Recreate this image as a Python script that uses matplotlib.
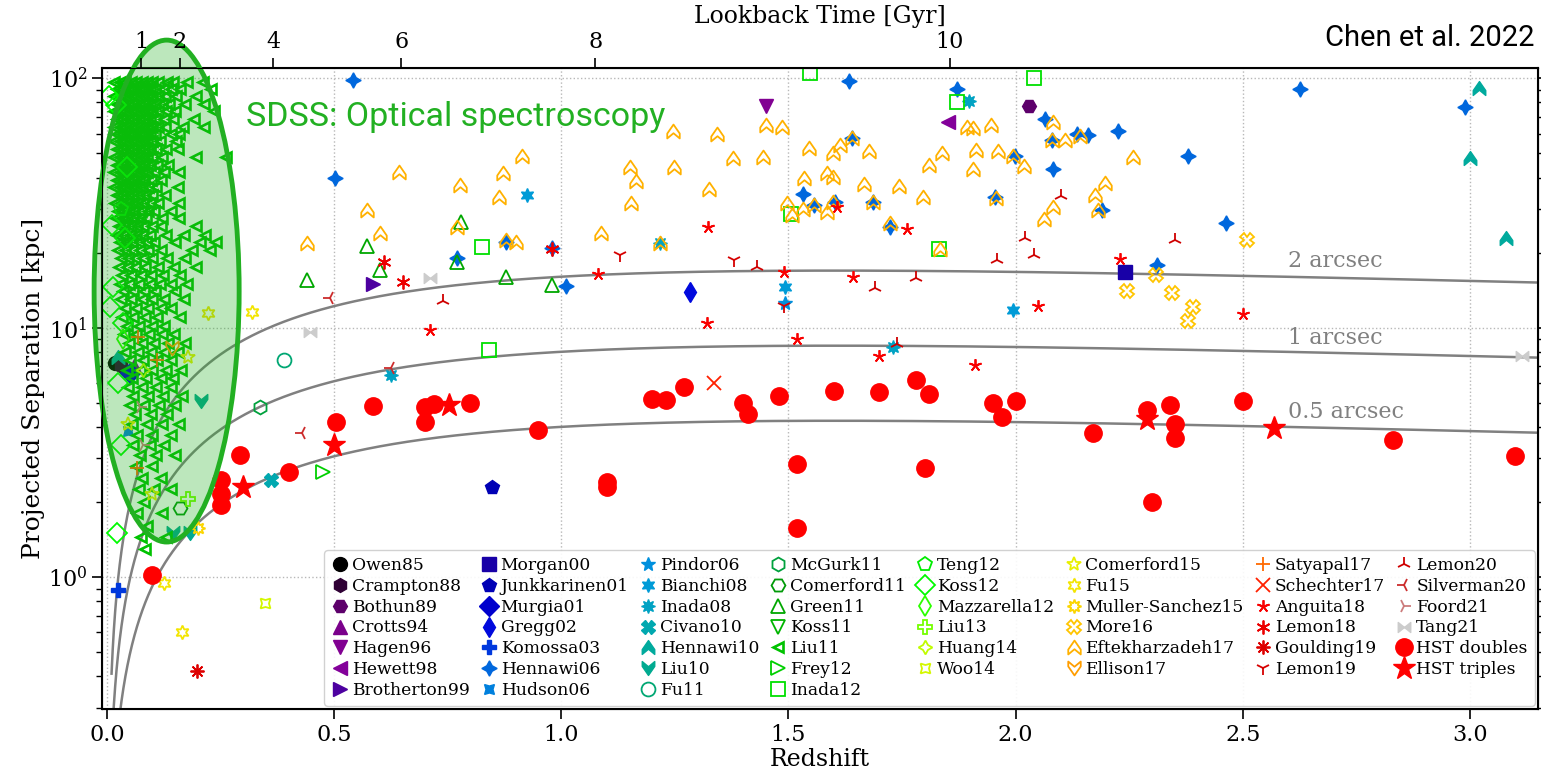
import numpy as np
import matplotlib
matplotlib.use("Agg")
import matplotlib.pyplot as plt
from matplotlib.patches import Ellipse
from matplotlib.path import Path

plt.rcParams["font.family"] = "DejaVu Serif"
plt.rcParams["mathtext.fontset"] = "dejavuserif"

# ---- (redshift, projected separation [kpc]) ----
owen85 = [(0.018, 7.2)]
crampton88 = [(0.030, 7.0)]
bothun89 = [(2.03, 77.8)]
crotts94 = [(0.060, 7.0)]
hagen96 = [(1.45, 77.8)]
hewett98 = [(1.851, 66.6)]
brotherton99 = [(0.586, 15.0)]
morgan00 = [(2.24, 16.8)]
junkkarinen01 = [(0.847, 2.3)]
murgia01 = [(0.050, 6.6)]
gregg02 = [(1.283, 13.9)]
komossa03 = [(0.024, 0.89)]
hennawi06 = [(0.541, 98), (0.502, 39.7), (0.77, 19.0), (0.878, 22.0), (0.98, 20.8),
             (1.01, 14.7), (1.633, 97.3), (1.871, 91), (2.065, 69), (2.082, 43.2),
             (2.225, 61.3), (2.626, 90.3), (2.99, 76.5), (2.38, 48.6), (2.463, 26.2),
             (2.311, 17.8), (1.532, 34.5), (1.556, 31.1), (1.603, 31.9), (1.686, 31.9),
             (1.724, 25.3), (1.955, 33.3), (2.08, 56.4), (2.135, 60), (2.16, 59),
             (2.19, 29.6), (1.64, 57.9), (1.999, 49)]
hudson06 = [(0.047, 3.84)]
pindor06 = [(1.493, 12.6)]
bianchi08 = [(1.493, 14.5), (0.925, 34), (1.995, 11.8)]
inada08 = [(1.217, 21.8), (1.73, 8.4), (0.625, 6.45), (1.897, 80.9)]
civano10 = [(0.36, 2.45)]
hennawi10 = [(3.02, 91.2), (3.00, 47.8), (3.08, 22.8), (0.025, 7.6)]
liu10 = [(0.207, 5.1), (0.145, 1.5), (0.183, 1.5)]
fu11 = [(0.39, 7.4)]
mcgurk11 = [(0.337, 4.8)]
comerford11 = [(0.16, 1.9)]
green11 = [(0.44, 15.5), (0.572, 21.3), (0.60, 17), (0.78, 26.5), (0.77, 18.3),
           (0.878, 16), (0.98, 14.9)]
koss11 = [(0.050, 25)]
# dense SDSS sample: (separation, list of redshifts) per row
liu11_rows = [
    (97, [0.016, 0.028, 0.040, 0.052, 0.064, 0.076, 0.088, 0.100, 0.112, 0.131, 0.146, 0.176, 0.212]),
    (91, [0.022, 0.034, 0.046, 0.058, 0.070, 0.082, 0.094, 0.106, 0.124, 0.140, 0.160, 0.228]),
    (85, [0.016, 0.028, 0.040, 0.052, 0.064, 0.076, 0.088, 0.100, 0.112, 0.128, 0.152, 0.196]),
    (79, [0.022, 0.034, 0.046, 0.058, 0.070, 0.082, 0.094, 0.106, 0.120, 0.137, 0.172, 0.214]),
    (74, [0.016, 0.028, 0.040, 0.052, 0.064, 0.076, 0.088, 0.100, 0.112, 0.130, 0.150, 0.236]),
    (69, [0.022, 0.034, 0.046, 0.058, 0.070, 0.082, 0.094, 0.106, 0.125, 0.145, 0.192]),
    (64, [0.016, 0.028, 0.040, 0.052, 0.064, 0.076, 0.088, 0.100, 0.112, 0.128, 0.168, 0.213]),
    (60, [0.022, 0.034, 0.046, 0.058, 0.070, 0.082, 0.094, 0.106, 0.140, 0.158]),
    (56, [0.016, 0.028, 0.040, 0.052, 0.064, 0.076, 0.088, 0.100, 0.117, 0.152]),
    (52, [0.022, 0.034, 0.046, 0.058, 0.070, 0.082, 0.094, 0.108, 0.130, 0.156]),
    (48.5, [0.016, 0.028, 0.040, 0.052, 0.064, 0.076, 0.088, 0.100, 0.120, 0.195, 0.262]),
    (45, [0.022, 0.034, 0.046, 0.058, 0.070, 0.082, 0.094, 0.110, 0.135]),
    (42, [0.016, 0.028, 0.040, 0.052, 0.064, 0.076, 0.088, 0.104, 0.126, 0.158]),
    (39, [0.022, 0.034, 0.046, 0.058, 0.070, 0.082, 0.096, 0.118]),
    (36.5, [0.016, 0.028, 0.040, 0.052, 0.064, 0.076, 0.090, 0.108, 0.157]),
    (34, [0.022, 0.034, 0.046, 0.058, 0.070, 0.084, 0.100, 0.128]),
    (31.5, [0.018, 0.030, 0.042, 0.054, 0.066, 0.080, 0.094, 0.112, 0.158]),
    (29.5, [0.024, 0.036, 0.048, 0.060, 0.074, 0.090, 0.104, 0.140]),
    (27.5, [0.020, 0.032, 0.044, 0.058, 0.072, 0.086, 0.120, 0.158]),
    (25.5, [0.026, 0.038, 0.052, 0.066, 0.080, 0.098, 0.118, 0.196]),
    (23.5, [0.022, 0.036, 0.050, 0.064, 0.078, 0.094, 0.130, 0.170, 0.215]),
    (22, [0.028, 0.042, 0.056, 0.070, 0.086, 0.104, 0.150, 0.205, 0.241]),
    (20.5, [0.024, 0.040, 0.056, 0.072, 0.090, 0.118, 0.188, 0.226]),
    (19, [0.030, 0.046, 0.062, 0.080, 0.100, 0.132, 0.172]),
    (17.5, [0.026, 0.044, 0.062, 0.084, 0.112, 0.148, 0.195]),
    (16.2, [0.032, 0.052, 0.074, 0.096, 0.124, 0.160]),
    (15, [0.028, 0.048, 0.070, 0.094, 0.116, 0.140, 0.176]),
    (14, [0.036, 0.058, 0.082, 0.106, 0.150]),
    (13, [0.030, 0.052, 0.076, 0.100, 0.126, 0.170]),
    (12, [0.040, 0.064, 0.090, 0.118, 0.140]),
    (11, [0.034, 0.058, 0.084, 0.110, 0.160]),
    (10.2, [0.044, 0.070, 0.098, 0.126]),
    (9.4, [0.038, 0.064, 0.092, 0.120, 0.148]),
    (8.7, [0.048, 0.076, 0.104, 0.134, 0.172]),
    (8.0, [0.040, 0.068, 0.096, 0.126, 0.156]),
    (7.4, [0.050, 0.080, 0.110, 0.140]),
    (6.8, [0.044, 0.072, 0.100, 0.130, 0.162]),
    (6.3, [0.054, 0.086, 0.118, 0.146]),
    (5.8, [0.046, 0.076, 0.108, 0.140]),
    (5.3, [0.058, 0.090, 0.124, 0.166]),
    (4.9, [0.050, 0.082, 0.114, 0.150]),
    (4.5, [0.062, 0.096, 0.132]),
    (4.1, [0.054, 0.088, 0.120, 0.158]),
    (3.7, [0.066, 0.100, 0.140]),
    (3.4, [0.058, 0.094, 0.126]),
    (3.1, [0.072, 0.108, 0.150]),
    (2.8, [0.064, 0.100]),
    (2.5, [0.078, 0.118]),
    (2.25, [0.070, 0.104, 0.140]),
    (2.0, [0.082]),
    (1.8, [0.066, 0.120]),
    (1.6, [0.088]),
    (1.45, [0.074, 0.130]),
    (1.3, [0.084]),
]
liu11 = [(z, sep) for sep, zs in liu11_rows for z in zs]
frey12 = [(0.475, 2.65)]
inada12 = [(0.825, 21), (0.841, 8.15), (1.547, 105), (2.04, 100), (1.871, 80.2),
           (1.506, 28.6), (1.832, 20.7)]
teng12 = [(0.030, 30)]
koss12 = [(0.005, 85), (0.020, 78), (0.044, 44), (0.011, 25.7), (0.040, 23),
          (0.013, 14.5), (0.007, 12.1), (0.035, 10.4), (0.024, 6.0), (0.030, 3.4),
          (0.022, 1.5)]
mazzarella12 = [(0.035, 9.0)]
liu13 = [(0.178, 2.05)]
huang14 = [(0.079, 6.8)]
woo14 = [(0.348, 0.79)]
comerford15 = [(0.178, 7.6), (0.10, 2.15), (0.046, 4.1)]
fu15 = [(0.126, 0.95), (0.166, 0.60), (0.222, 11.5), (0.319, 11.6)]
muller_sanchez15 = [(0.20, 1.57)]
more16 = [(2.31, 16.2), (2.245, 14.1), (2.345, 13.8), (2.39, 12.1), (2.38, 10.6), (2.51, 22.4)]
eftekharzadeh17 = [
    (0.44, 21.8), (0.572, 29.6), (0.60, 23.9), (0.643, 42), (0.777, 37.3), (0.77, 25.3),
    (0.872, 41.7), (0.863, 33.3), (0.913, 48.6), (0.878, 22.4), (0.90, 22), (1.087, 23.9),
    (1.151, 44), (1.164, 38.7), (1.153, 31.6), (1.246, 61.3), (1.248, 44), (1.343, 59.6),
    (1.325, 36), (1.378, 47.8), (1.217, 21.8), (1.45, 64.8), (1.486, 63.6), (1.444, 48.2),
    (1.545, 52.4), (1.598, 50), (1.613, 53.8), (1.64, 57.9), (1.677, 51), (1.534, 39.7),
    (1.585, 41.6), (1.598, 40.1), (1.666, 37.6), (1.743, 36.9), (1.81, 44.8), (1.838, 50),
    (1.913, 51.4), (1.961, 51), (1.906, 43.2), (1.893, 63.6), (1.906, 63), (1.946, 64.8),
    (1.994, 48.6), (2.018, 44.4), (2.082, 66.6), (2.08, 56.4), (2.109, 56.4), (2.142, 58.5),
    (2.258, 48.2), (2.197, 37.9), (2.175, 33.9), (2.181, 29.6), (2.082, 30.4), (2.063, 27.2),
    (1.497, 31.6), (1.508, 28.2), (1.532, 29.9), (1.556, 31.1), (1.585, 29.2), (1.598, 31.9),
    (1.686, 31.9), (1.724, 26.2), (1.796, 33.3), (1.957, 33.1), (1.834, 20.7)]
ellison17 = [(0.143, 8.3)]
satyapal17 = [(0.068, 9.2), (0.11, 7.4), (0.066, 2.75)]
schechter17 = [(1.336, 6.0)]
anguita18 = [(1.323, 25.3), (1.49, 16.7), (1.642, 16.0), (1.761, 24.8), (1.607, 30.4),
             (2.23, 18.8), (2.05, 12.2), (2.50, 11.4), (0.71, 9.8), (1.32, 10.4),
             (1.91, 7.1), (1.70, 7.7), (1.52, 9.0), (1.08, 16.4)]
lemon18 = [(0.61, 18.3), (0.652, 15.2), (0.98, 20.6)]
goulding19 = [(0.198, 0.42)]
lemon19 = [(1.129, 19.5), (1.38, 18.7), (1.49, 12.2)]
lemon20 = [(0.74, 12.8), (1.43, 17.5), (1.69, 14.4), (1.78, 15.8), (1.96, 18.7),
           (2.02, 22.9), (2.04, 19.5), (2.10, 33.6), (2.35, 22.4), (1.74, 8.6)]
silverman20 = [(0.49, 13.1), (0.43, 3.8), (0.625, 6.9)]
foord21 = [(0.073, 4.8), (0.079, 3.4)]
tang21 = [(0.71, 15.8), (0.447, 9.6), (3.115, 7.7)]

hst_doubles = [(0.10, 1.02), (0.293, 3.1), (0.251, 2.45), (0.251, 2.15), (0.251, 1.95),
               (0.40, 2.65), (0.504, 4.2), (0.586, 4.85), (0.70, 4.8), (0.70, 4.2),
               (0.72, 4.95), (0.80, 5.0), (0.949, 3.9), (1.10, 2.4), (1.10, 2.3),
               (1.20, 5.2), (1.23, 5.15), (1.27, 5.8), (1.40, 5.0), (1.41, 4.5),
               (1.48, 5.3), (1.52, 2.85), (1.52, 1.57), (1.60, 5.6), (1.70, 5.5),
               (1.78, 6.2), (1.81, 5.4), (1.80, 2.75), (1.95, 5.0), (1.97, 4.4),
               (2.00, 5.1), (2.17, 3.8), (2.29, 4.7), (2.30, 2.0), (2.34, 4.9),
               (2.35, 4.1), (2.35, 3.6), (2.50, 5.1), (2.83, 3.55), (3.10, 3.05)]
hst_triples = [(0.30, 2.3), (0.50, 3.4), (0.753, 4.9), (2.29, 4.3), (2.57, 3.95)]

arcsec_curves = [2.0, 1.0, 0.5]
lookback_ticks = [1, 2, 4, 6, 8, 10]

# ---- marker shapes ----
chevron_up = Path([(0, 1), (0.9, -0.3), (0.9, -1.0), (0, -0.25), (-0.9, -1.0),
                   (-0.9, -0.3), (0, 1)], closed=True)
chevron_down = Path([(0, -1), (0.9, 0.3), (0.9, 1.0), (0, 0.25), (-0.9, 1.0),
                     (-0.9, 0.3), (0, -1)], closed=True)
bowtie = Path([(-1, -0.8), (-1, 0.8), (1, -0.8), (1, 0.8), (-1, -0.8)], closed=True)

surveys = [
    ("Owen85", owen85, "o", "filled"),
    ("Crampton88", crampton88, "h", "filled"),
    ("Bothun89", bothun89, "H", "filled"),
    ("Crotts94", crotts94, "^", "filled"),
    ("Hagen96", hagen96, "v", "filled"),
    ("Hewett98", hewett98, "<", "filled"),
    ("Brotherton99", brotherton99, ">", "filled"),
    ("Morgan00", morgan00, "s", "filled"),
    ("Junkkarinen01", junkkarinen01, "p", "filled"),
    ("Murgia01", murgia01, "D", "filled"),
    ("Gregg02", gregg02, "d", "filled"),
    ("Komossa03", komossa03, "P", "filled"),
    ("Hennawi06", hennawi06, (4, 1, 0), "filled"),
    ("Hudson06", hudson06, (4, 1, 45), "filled"),
    ("Pindor06", pindor06, "*", "filled"),
    ("Bianchi08", bianchi08, (6, 1, 0), "filled"),
    ("Inada08", inada08, (8, 1, 0), "filled"),
    ("Civano10", civano10, "X", "filled"),
    ("Hennawi10", hennawi10, chevron_up, "filled"),
    ("Liu10", liu10, chevron_down, "filled"),
    ("Fu11", fu11, "o", "open"),
    ("McGurk11", mcgurk11, "h", "open"),
    ("Comerford11", comerford11, "H", "open"),
    ("Green11", green11, "^", "open"),
    ("Koss11", koss11, "v", "open"),
    ("Liu11", liu11, "<", "open"),
    ("Frey12", frey12, ">", "open"),
    ("Inada12", inada12, "s", "open"),
    ("Teng12", teng12, "p", "open"),
    ("Koss12", koss12, "D", "open"),
    ("Mazzarella12", mazzarella12, "d", "open"),
    ("Liu13", liu13, "P", "open"),
    ("Huang14", huang14, (4, 1, 0), "open"),
    ("Woo14", woo14, (4, 1, 45), "open"),
    ("Comerford15", comerford15, "*", "open"),
    ("Fu15", fu15, (6, 1, 0), "open"),
    ("Muller-Sanchez15", muller_sanchez15, (8, 1, 0), "open"),
    ("More16", more16, "X", "open"),
    ("Eftekharzadeh17", eftekharzadeh17, chevron_up, "open"),
    ("Ellison17", ellison17, chevron_down, "open"),
    ("Satyapal17", satyapal17, "+", "line"),
    ("Schechter17", schechter17, "x", "line"),
    ("Anguita18", anguita18, (5, 2, 0), "line"),
    ("Lemon18", lemon18, (6, 2, 0), "line"),
    ("Goulding19", goulding19, (8, 2, 0), "line"),
    ("Lemon19", lemon19, "1", "line"),
    ("Lemon20", lemon20, "2", "line"),
    ("Silverman20", silverman20, "3", "line"),
    ("Foord21", foord21, "4", "line"),
    ("Tang21", tang21, bowtie, "filled"),
]
marker_size = {"Liu11": 6.5, "Hennawi06": 11, "Eftekharzadeh17": 10, "Anguita18": 9,
               "Lemon18": 10, "Lemon20": 10, "Lemon19": 10, "Tang21": 9}

# ---- cosmology (flat LCDM, H0=70, Om=0.3) for curves and top axis ----
H0, OM = 70.0, 0.3
zg = np.linspace(0.0, 3.2, 6401)
ez = np.sqrt(OM * (1 + zg) ** 3 + 1 - OM)


def cumtrapz(f):
    return np.concatenate([[0.0], np.cumsum(0.5 * (f[1:] + f[:-1]) * np.diff(zg))])


lookback = 977.8 / H0 * cumtrapz(1.0 / ((1 + zg) * ez))
d_a = 299792.458 / H0 * cumtrapz(1.0 / ez) / (1 + zg)
kpc_per_arcsec = d_a * 1000.0 * np.pi / (180.0 * 3600.0)

fig = plt.figure(figsize=(15.41, 7.77), dpi=100)
ax = fig.add_axes([0.0662, 0.0875, 0.9318, 0.825])

colors = plt.get_cmap("nipy_spectral")(np.linspace(0, 1, len(surveys)))
for (label, pts, marker, kind), c in zip(surveys, colors):
    z, sep = np.array(pts, dtype=float).T
    ms = marker_size.get(label, 10)
    mfc = "none" if kind == "open" else c
    mew = 1.3 if kind != "filled" else 1.0
    if label == "Liu11":
        mew = 1.9
    ax.plot(z, sep, ls="none", marker=marker, ms=ms, mfc=mfc, mec=c, mew=mew,
            label=label, zorder=3)

z, sep = np.array(hst_doubles).T
ax.plot(z, sep, ls="none", marker="o", ms=12.5, color="red", label="HST doubles", zorder=4)
z, sep = np.array(hst_triples).T
ax.plot(z, sep, ls="none", marker="*", ms=17, color="red", label="HST triples", zorder=4)

mask = zg >= 0.01
for theta in arcsec_curves:
    ax.plot(zg[mask], theta * kpc_per_arcsec[mask], color="#808080", lw=1.8, zorder=2)
for theta, ypos in zip(["2 arcsec", "1 arcsec", "0.5 arcsec"], [18.6, 9.1, 4.6]):
    ax.text(2.6, ypos, theta, color="#808080", fontsize=16, va="center")

ax.set_yscale("log")
ax.set_xlim(-0.011, 3.15)
ax.set_ylim(0.296, 110)
ax.set_xticks([0.0, 0.5, 1.0, 1.5, 2.0, 2.5, 3.0])
ax.grid(True, which="major", ls=":", color="#b8b8b8", lw=1.0)
ax.tick_params(which="both", direction="out", right=True, labelsize=16)
ax.tick_params(which="major", length=7, width=1.2)
ax.tick_params(which="minor", length=4, width=1.0)
for s in ax.spines.values():
    s.set_linewidth(1.5)
ax.set_xlabel("Redshift", fontsize=17, labelpad=2)
ax.set_ylabel("Projected Separation [kpc]", fontsize=18, labelpad=2)

ax2 = ax.twiny()
ax2.set_xlim(ax.get_xlim())
ax2.set_xticks(np.interp(lookback_ticks, lookback, zg))
ax2.set_xticklabels([str(t) for t in lookback_ticks])
ax2.tick_params(direction="out", labelsize=16, length=7, width=1.2)
ax2.set_xlabel("Lookback Time [Gyr]", fontsize=17, labelpad=6)

ax.legend(ncol=8, loc="lower right", bbox_to_anchor=(1.0, 0.0), fontsize=12.3,
          handletextpad=0.2, columnspacing=0.62, labelspacing=0.22, handlelength=1.0,
          borderpad=0.4, borderaxespad=0.2, framealpha=0.9, edgecolor="#cccccc")

ax.add_patch(Ellipse((0.045, 0.652), 0.101, 0.783, transform=ax.transAxes,
                     clip_on=False, fc=(0.13, 0.69, 0.13, 0.3), ec="#22b022",
                     lw=3.5, zorder=5))
narrow = ["Roboto", "DejaVu Sans"]
ax.text(0.1003, 0.924, "SDSS: Optical spectroscopy", transform=ax.transAxes,
        color="#22b022", fontsize=24.5, family=narrow, va="center", ha="left")
fig.text(0.996, 0.951, "Chen et al. 2022", fontsize=21, family=narrow,
         ha="right", va="center")

fig.savefig("out.png", dpi=100)
